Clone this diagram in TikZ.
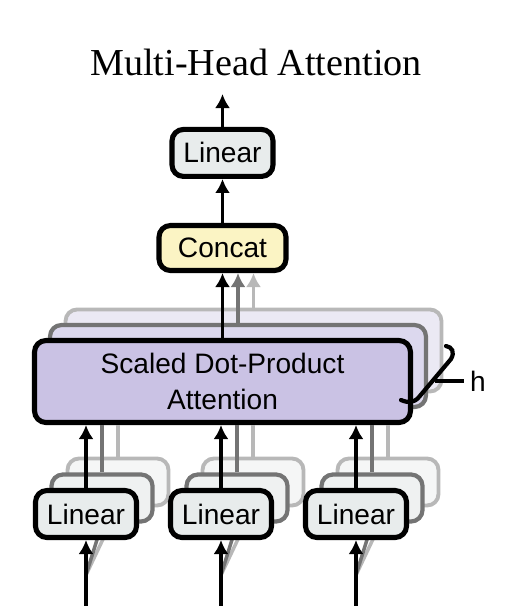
\documentclass[tikz,border=0pt]{standalone}
\usepackage{fontspec}
\setmainfont{Liberation Serif}
\setsansfont{Liberation Sans}
\usepackage{tikz}
\usetikzlibrary{arrows.meta,positioning,calc}

\definecolor{linfill}{HTML}{E8ECEC}
\definecolor{linfillb}{HTML}{EFF1F1}
\definecolor{linfillc}{HTML}{F5F6F6}
\definecolor{catfill}{HTML}{FBF4C4}
\definecolor{attfill}{HTML}{CAC2E4}
\definecolor{attfillb}{HTML}{DCD8EE}
\definecolor{attfillc}{HTML}{EBE9F4}
\definecolor{midgray}{HTML}{747474}
\definecolor{palegray}{HTML}{B8B8B8}

\begin{document}
\begin{tikzpicture}[
  x=0.02cm, y=-0.02cm,
  font=\sffamily\fontsize{16}{20}\selectfont,
  box/.style={draw, line width=2.9pt, rounded corners=6.5pt, inner sep=0pt, align=center},
  linbox/.style={box, fill=linfill, minimum width=2.02cm, minimum height=0.94cm},
  catbox/.style={box, fill=catfill, minimum width=2.54cm, minimum height=0.9cm},
  attbox/.style={box, fill=attfill, minimum width=7.52cm, minimum height=1.64cm},
  midcopy/.style={draw=midgray, line width=2.4pt},
  palecopy/.style={draw=palegray, line width=2.2pt},
  arr/.style={line width=2.2pt, -{Latex[length=2.8mm,width=3mm]}},
  link/.style={line width=2pt}
]
\useasboundingbox (0,0) rectangle (508,606);

\node[font=\rmfamily\fontsize{21.7}{26}\selectfont] (title) at (256,62) {Multi-Head Attention};

% scaled dot-product attention, h copies
\node[attbox, palecopy, fill=attfillc] (att3) at (253.5,350.5) {};
\node[attbox, midcopy, fill=attfillb] (att2) at (238,366) {};
\node[attbox] (att) at (222.5,381.5) {Scaled Dot-Product\\Attention};

\node[catbox] (concat) at (222.5,248) {Concat};
\node[linbox, above=0.88cm of concat] (linout) {Linear};
\coordinate (out) at (222.5,94);

\draw[arr] (att.north) -- (concat.south);
\draw[arr, midgray] (att2.north) -- (att2.north |- concat.south);
\draw[arr, palegray] (att3.north) -- (att3.north |- concat.south);
\draw[arr] (concat) -- (linout);
\draw[arr] (linout) -- (out);

% h bracket
\coordinate (br1) at (446,346);
\coordinate (br2) at (451,359);
\coordinate (br3) at (419,397);
\coordinate (br4) at (401,400);
\draw[link, line width=2.4pt, line cap=round]
  (br1) .. controls (452,347) and (455,352) .. (br2) -- (br3)
  .. controls (414,403) and (408,403) .. (br4);
\node (hlab) at (478,381) {h};
\coordinate (tick) at (435,381);
\draw[link, line width=1.8pt] (tick) -- (hlab.west);

% linear projections for V, K, Q
\foreach \i/\cx in {1/86,2/221,3/356} {
  \coordinate (fork\i) at (\cx,575);
  \coordinate (in\i) at (\cx,606);
  \node[linbox, palecopy, fill=linfillc] (lin\i c) at (\cx+32,482) {};
  \draw[link, palegray] (fork\i) -- (lin\i c.south);
  \node[linbox, midcopy, fill=linfillb] (lin\i b) at (\cx+16,498) {};
  \draw[link, midgray] (fork\i) -- (lin\i b.south);
  \node[linbox] (lin\i) at (\cx,514) {Linear};
  \draw[link, palegray] (lin\i c.north) -- (lin\i c.north |- att.south);
  \draw[link, midgray] (lin\i b.north) -- (lin\i b.north |- att.south);
  \draw[arr] (lin\i.north) -- (lin\i.north |- att.south);
  \draw[arr] (in\i) -- (lin\i.south);
}
\end{tikzpicture}
\end{document}
